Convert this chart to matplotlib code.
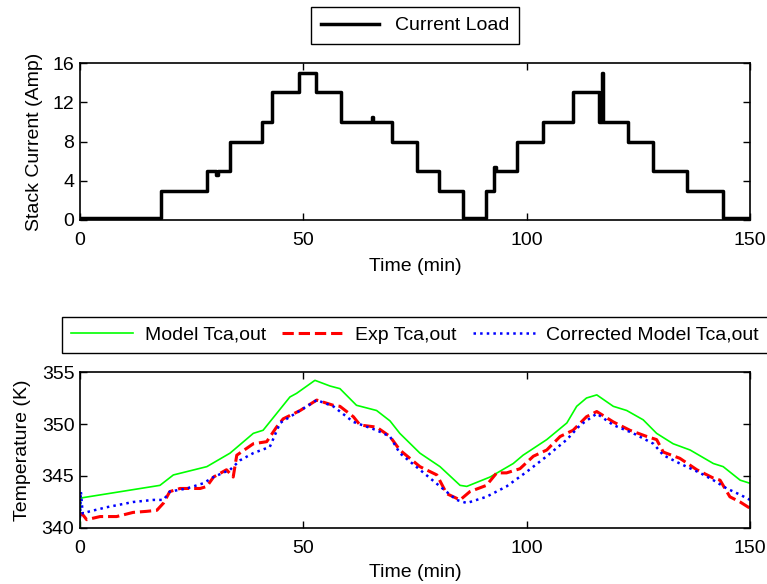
import matplotlib
matplotlib.use('Agg')
import matplotlib.pyplot as plt

plt.rcParams['font.family'] = ['Liberation Sans', 'DejaVu Sans']
plt.rcParams['font.size'] = 14

# stack current: step change times (min) and levels (A)
step_t = [0, 18.1, 28.4, 30.5, 30.8, 33.6, 40.7, 42.9, 49.1, 52.8, 58.4, 65.3, 65.6,
          69.8, 75.4, 80.4, 85.8, 91.0, 92.8, 93.1, 97.8, 103.7, 110.3, 116.3, 116.9,
          117.1, 122.8, 128.3, 136.0, 144.0, 150]
step_i = [0.2, 3, 5, 4.6, 5, 8, 10, 13, 15, 13, 10, 10.5, 10,
          8, 5, 3, 0.2, 3, 5.4, 5, 8, 10, 13, 10, 15,
          10, 8, 5, 3, 0.2, 0.2]

# cathode outlet temperature (K)
t_model = [0, 0.1, 0.4, 17.9, 20.9, 28.4, 33.6, 38.8, 41.0, 44.0, 47.0, 48.5, 52.6, 56.0,
           58.2, 61.9, 66.4, 69.4, 71.6, 76.1, 80.6, 85.1, 86.6, 91.8, 97.0, 99.2, 104.5,
           109.0, 111.2, 113.4, 115.7, 119.4, 122.4, 126.1, 129.1, 132.8, 136.6, 141.8,
           144.0, 147.8, 150]
T_model = [340, 342.6, 342.9, 344.1, 345.1, 345.9, 347.2, 349.1, 349.4, 351.0, 352.6, 352.95,
           354.2, 353.65, 353.4, 351.8, 351.3, 350.3, 349.1, 347.2, 345.9, 344.1, 344.0,
           344.9, 346.2, 347.0, 348.5, 350.1, 351.7, 352.5, 352.8, 351.7, 351.3, 350.4,
           349.1, 348.1, 347.5, 346.2, 345.9, 344.6, 344.3]

t_exp = [0, 0.4, 1.5, 4.5, 8.2, 11.9, 14.9, 17.2, 18.7, 20.1, 22.4, 26.9, 28.4, 29.9, 32.8,
         34.3, 35.1, 38.8, 41.8, 44.0, 45.5, 49.3, 53.0, 56.7, 58.2, 61.2, 62.7, 66.4, 69.4,
         71.6, 76.1, 79.9, 82.1, 85.1, 87.3, 91.0, 93.3, 95.5, 98.5, 101.5, 104.5, 107.5,
         110.4, 113.4, 115.7, 119.4, 123.1, 126.9, 129.1, 130.6, 134.3, 138.1, 141.8, 143.3,
         145.5, 147.8, 150]
T_exp = [341.2, 341.4, 340.8, 341.1, 341.1, 341.5, 341.6, 341.7, 342.4, 343.5, 343.8, 343.8,
         344.0, 344.9, 345.6, 344.9, 347.0, 348.1, 348.3, 349.7, 350.5, 351.3, 352.3, 351.8,
         351.7, 350.7, 349.9, 349.7, 348.8, 347.5, 345.9, 345.1, 343.3, 342.7, 343.5, 344.1,
         345.3, 345.3, 345.7, 346.9, 347.5, 348.8, 349.4, 350.7, 351.2, 350.2, 349.4, 348.8,
         348.5, 347.3, 346.7, 345.6, 344.8, 344.6, 343.0, 342.5, 341.9]

t_corr = [0, 0.2, 0.6, 2.2, 6.0, 11.9, 16.4, 18.7, 20.1, 23.9, 27.6, 29.9, 33.6, 35.8, 38.8,
          42.5, 44.8, 49.3, 53.0, 56.7, 61.2, 66.4, 69.4, 71.6, 76.1, 80.6, 84.3, 86.6, 91.0,
          95.5, 100.0, 104.5, 109.0, 112.0, 115.7, 119.4, 123.9, 128.4, 130.6, 134.3, 138.8,
          141.8, 144.8, 147.8, 150]
T_corr = [341.0, 343.5, 341.4, 341.6, 342.0, 342.5, 342.7, 342.7, 343.5, 343.8, 344.3, 344.9,
          345.6, 346.5, 347.2, 347.8, 350.1, 351.3, 352.3, 351.7, 350.2, 349.4, 348.8, 347.2,
          345.6, 344.0, 342.7, 342.4, 343.0, 344.0, 345.4, 346.9, 348.5, 349.9, 351.0, 349.9,
          349.1, 348.1, 347.0, 346.2, 345.3, 344.6, 343.8, 343.2, 342.7]

fig = plt.figure(figsize=(7.67, 5.84), dpi=100)
ax1 = fig.add_axes([0.1043, 0.6233, 0.8735, 0.2688])
ax2 = fig.add_axes([0.1043, 0.0959, 0.8735, 0.2671])

ax1.step(step_t, step_i, where='post', color='black', linewidth=2.5, label='Current Load')
ax1.set_xlim(0, 150)
ax1.set_ylim(0, 16)
ax1.set_xticks([0, 50, 100, 150])
ax1.set_yticks([0, 4, 8, 12, 16])
ax1.set_xlabel('Time (min)', labelpad=6)
ax1.set_ylabel('Stack Current (Amp)', labelpad=7)
ax1.legend(loc='lower center', bbox_to_anchor=(0.5, 1.12), handlelength=3.0,
           fancybox=False, edgecolor='black', framealpha=1, borderpad=0.5,
           borderaxespad=0)

ax2.plot(t_model, T_model, color='#00ff00', linewidth=1.2, label='Model Tca,out')
ax2.plot(t_exp, T_exp, color='red', linewidth=2.2, linestyle='--', label='Exp Tca,out')
ax2.plot(t_corr, T_corr, color='blue', linewidth=1.8, linestyle=':', label='Corrected Model Tca,out')
ax2.set_xlim(0, 150)
ax2.set_ylim(340, 355)
ax2.set_xticks([0, 50, 100, 150])
ax2.set_yticks([340, 345, 350, 355])
ax2.set_xlabel('Time (min)', labelpad=5)
ax2.set_ylabel('Temperature (K)', labelpad=8)
ax2.legend(loc='lower center', bbox_to_anchor=(0.5, 1.125), ncol=3, handlelength=3.2,
           columnspacing=0.8, handletextpad=0.6,
           fancybox=False, edgecolor='black', framealpha=1, borderpad=0.45,
           borderaxespad=0)

for ax in (ax1, ax2):
    ax.tick_params(direction='in', top=True, right=True, length=5, width=1, pad=4)
    ax.tick_params(axis='x', pad=9)
    for s in ax.spines.values():
        s.set_linewidth(1.2)

fig.savefig('out.png', dpi=100)
